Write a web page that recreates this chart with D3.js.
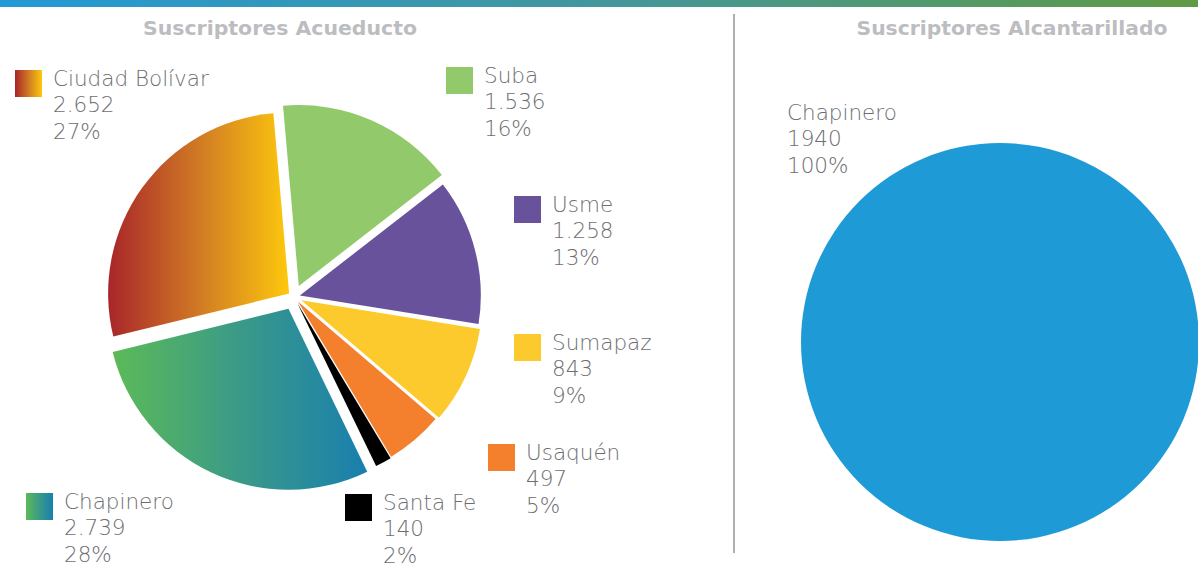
<!DOCTYPE html>
<html><head><meta charset="utf-8">
<script src="https://cdn.jsdelivr.net/npm/d3@7"></script>
<style>
html,body{margin:0;padding:0;background:#fff;}
svg{display:block;}
</style></head>
<body>
<svg id="c" width="1198" height="566"></svg>
<script>
// ---- data ----
const acueductoNames = ["Suba","Usme","Sumapaz","Usaquén","Santa Fe","Chapinero","Ciudad Bolívar"];
const acueductoValues = [1536,1258,843,497,140,2739,2652];
const acueductoLabels = ["1.536","1.258","843","497","140","2.739","2.652"];
const acueductoPct = ["16%","13%","9%","5%","2%","28%","27%"];
const alcantNames = ["Chapinero"];
const alcantValues = [1940];
const alcantLabels = ["1940"];
const alcantPct = ["100%"];
const titles = ["Suscriptores Acueducto","Suscriptores Alcantarillado"];

// ---- styles / layout ----
const fills = ["#92c96a","#67529b","#fdca2e","#f47f2d","#000000","url(#gChap)","url(#gCB)"];
const swatchFills = ["#92c96a","#67529b","#fdca2e","#f47f2d","#000000","url(#gChapS)","url(#gCBS)"];
const explode = [12,6,8,6,7,13,6];
const legendPos = [[446,67],[514,196],[514,334],[488,444],[345,494],[26,493],[15,70]];
const textColor = "#6d6e71";

const svg = d3.select("#c");
const defs = svg.append("defs");
function lin(id, stops){
  const g = defs.append("linearGradient").attr("id",id).attr("x1","0").attr("x2","1").attr("y1","0").attr("y2","0");
  stops.forEach(s=>g.append("stop").attr("offset",s[0]).attr("stop-color",s[1]));
}
lin("gBar",[[0,"#2399d6"],[0.5,"#43979d"],[1,"#5f9a44"]]);
lin("gCB",[[0,"#a8252a"],[0.5,"#d07a24"],[1,"#fdc80d"]]);
lin("gCBS",[[0,"#a8252a"],[0.5,"#d07a24"],[1,"#fdc80d"]]);
lin("gChap",[[0,"#5cba57"],[0.5,"#3a9a88"],[1,"#197fae"]]);
lin("gChapS",[[0,"#5cba57"],[0.5,"#3a9a88"],[1,"#197fae"]]);

// top bar
svg.append("rect").attr("x",0).attr("y",0).attr("width",1198).attr("height",7).attr("fill","url(#gBar)");

// divider
svg.append("line").attr("x1",734).attr("x2",734).attr("y1",14).attr("y2",553)
  .attr("stroke","#8e8e8e").attr("stroke-width",1.4);

// titles
const titleFont = "'DejaVu Sans', sans-serif";
[[280,titles[0],274],[1012,titles[1],311]].forEach(([x,t,w])=>{
  svg.append("text").attr("x",x).attr("y",35).attr("text-anchor","middle")
    .attr("font-family",titleFont).attr("font-weight","bold").attr("font-size",19)
    .attr("fill","#bcbdc1").attr("textLength",w).attr("lengthAdjust","spacingAndGlyphs").text(t);
});

// left pie
const cx = 294, cy = 297, R = 181;
const pie = d3.pie().sort(null).startAngle(-5*Math.PI/180).endAngle(355*Math.PI/180);
const arcs = pie(acueductoValues);
const arc = d3.arc().innerRadius(0).outerRadius(R);
const gL = svg.append("g").attr("transform",`translate(${cx},${cy})`);
gL.selectAll("path").data(arcs).join("path")
  .attr("d",arc)
  .attr("fill",(d,i)=>fills[i])
  .attr("transform",(d,i)=>{
    const m = (d.startAngle+d.endAngle)/2;
    return `translate(${explode[i]*Math.sin(m)},${-explode[i]*Math.cos(m)})`;
  });

// legends
const labFont = "'DejaVu Sans', sans-serif";
function legend(x,y,fill,name,val,pct,withSwatch){
  if(withSwatch){
    svg.append("rect").attr("x",x).attr("y",y).attr("width",27).attr("height",27).attr("fill",fill);
  }
  const tx = withSwatch ? x+38 : x;
  const t = svg.append("text").attr("font-family",labFont).attr("font-weight",200)
    .attr("font-size",21.5).attr("fill",textColor);
  [name,val,pct].forEach((s,k)=>{
    t.append("tspan").attr("x",tx).attr("y",y+16+k*26.3).text(s);
  });
}
acueductoNames.forEach((n,i)=>{
  legend(legendPos[i][0],legendPos[i][1],swatchFills[i],n,acueductoLabels[i],acueductoPct[i],true);
});

// right pie
const cx2 = 1000, cy2 = 342, R2 = 199;
const pie2 = d3.pie().sort(null);
const arc2 = d3.arc().innerRadius(0).outerRadius(R2);
svg.append("g").attr("transform",`translate(${cx2},${cy2})`)
  .selectAll("path").data(pie2(alcantValues)).join("path")
  .attr("d",arc2).attr("fill","#1e9ad6");
legend(787,104,null,alcantNames[0],alcantLabels[0],alcantPct[0],false);
</script>
</body></html>
